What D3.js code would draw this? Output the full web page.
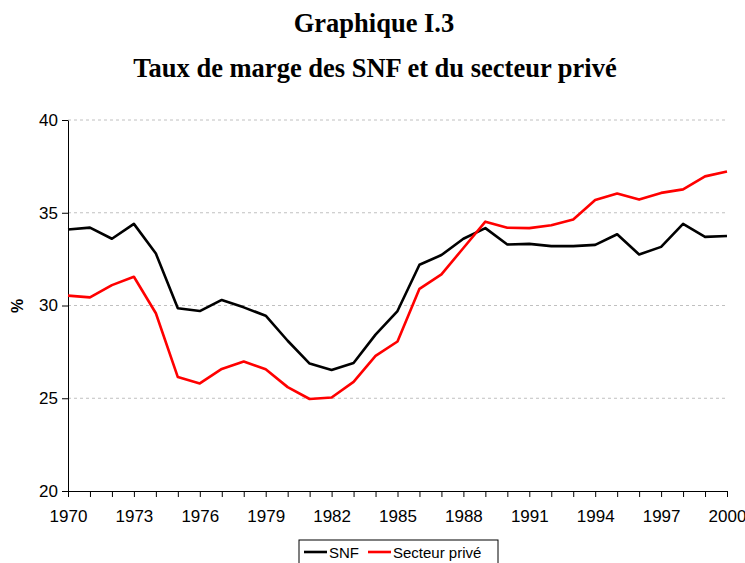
<!DOCTYPE html>
<html>
<head>
<meta charset="utf-8">
<script src="https://cdn.jsdelivr.net/npm/d3@7"></script>
<style>
  body { margin: 0; background: #fff; }
  svg { display: block; }
</style>
</head>
<body>
<svg id="chart" width="745" height="563"></svg>
<script>
// years 1970..2000
const years = d3.range(1970, 2001);
// taux de marge des SNF
const snf = [34.1, 34.2, 33.6, 34.4, 32.8, 29.85, 29.7, 30.3, 29.9, 29.45, 28.1,
  26.87, 26.52, 26.9, 28.43, 29.7, 32.2, 32.72, 33.6, 34.17, 33.29,
  33.32, 33.2, 33.2, 33.27, 33.84, 32.75, 33.16, 34.4, 33.7, 33.75];
// taux de marge du secteur privé
const prive = [30.53, 30.44, 31.1, 31.55, 29.58, 26.14, 25.8, 26.58, 26.98, 26.56, 25.6,
  24.96, 25.04, 25.88, 27.28, 28.06, 30.9, 31.68, 33.1, 34.52, 34.19,
  34.17, 34.33, 34.64, 35.69, 36.04, 35.71, 36.07, 36.26, 36.96, 37.22];
const yTicks = [20, 25, 30, 35, 40];
const xLabels = [1970, 1973, 1976, 1979, 1982, 1985, 1988, 1991, 1994, 1997, 2000];

const series = [
  {name: "SNF", values: snf, color: "#000"},
  {name: "Secteur privé", values: prive, color: "#ff0000"}
];

const svg = d3.select("#chart");
const plotLeft = 68, plotRight = 727, plotTop = 120, plotBottom = 491;

const x = d3.scaleLinear().domain([1970, 2000]).range([plotLeft, plotRight]);
const y = d3.scaleLinear().domain([20, 40]).range([plotBottom, plotTop]);

// titles
svg.append("text")
  .attr("x", 374).attr("y", 32)
  .attr("text-anchor", "middle")
  .style("font-family", "'Liberation Serif', 'Times New Roman', serif")
  .style("font-weight", "bold").style("font-size", "26.5px")
  .text("Graphique I.3");
svg.append("text")
  .attr("x", 375).attr("y", 77)
  .attr("text-anchor", "middle")
  .style("font-family", "'Liberation Serif', 'Times New Roman', serif")
  .style("font-weight", "bold").style("font-size", "26.5px")
  .text("Taux de marge des SNF et du secteur privé");

// dashed gridlines
svg.append("g")
  .selectAll("line")
  .data(yTicks.filter(d => d > 20))
  .join("line")
  .attr("x1", plotLeft).attr("x2", plotRight)
  .attr("y1", d => y(d)).attr("y2", d => y(d))
  .attr("stroke", "#c0c0c0")
  .attr("stroke-dasharray", "3,3");

// y axis
const yAxis = svg.append("g")
  .attr("transform", `translate(${plotLeft},0)`)
  .call(d3.axisLeft(y).tickValues(yTicks).tickSize(6).tickSizeOuter(0).tickPadding(4));
yAxis.select(".domain").attr("stroke", "#000");
yAxis.selectAll("text")
  .style("font-family", "'Liberation Sans', Arial, sans-serif")
  .style("font-size", "17px").attr("fill", "#000");

// x axis, a tick every year, a label every 3 years
const xAxis = svg.append("g")
  .attr("transform", `translate(0,${plotBottom})`)
  .call(d3.axisBottom(x).tickValues(years).tickSize(6).tickSizeOuter(0)
    .tickPadding(13)
    .tickFormat(d => xLabels.includes(d) ? d : ""));
xAxis.select(".domain").attr("stroke", "#000");
xAxis.selectAll("text")
  .style("font-family", "'Liberation Sans', Arial, sans-serif")
  .style("font-size", "17px").attr("fill", "#000");

// "%" label
svg.append("text")
  .attr("transform", "translate(23,306) rotate(-90)")
  .attr("text-anchor", "middle")
  .style("font-family", "'Liberation Sans', Arial, sans-serif")
  .style("font-weight", "bold").style("font-size", "16px")
  .text("%");

// lines
const line = d3.line()
  .x((d, i) => x(years[i]))
  .y(d => y(d));

svg.append("g")
  .selectAll("path")
  .data(series)
  .join("path")
  .attr("d", d => line(d.values))
  .attr("fill", "none")
  .attr("stroke", d => d.color)
  .attr("stroke-width", 2.6)
  .attr("stroke-linejoin", "round");

// legend
const legend = svg.append("g").attr("transform", "translate(299,540)");
legend.append("rect")
  .attr("width", 199).attr("height", 30)
  .attr("fill", "#fff").attr("stroke", "#000");
const items = legend.selectAll("g.item")
  .data(series)
  .join("g")
  .attr("class", "item")
  .attr("transform", (d, i) => `translate(${i === 0 ? 5 : 69},0)`);
items.append("line")
  .attr("x1", 0).attr("x2", 23)
  .attr("y1", 12).attr("y2", 12)
  .attr("stroke", d => d.color).attr("stroke-width", 2.6);
items.append("text")
  .attr("x", 25).attr("y", 17.5)
  .style("font-family", "'Liberation Sans', Arial, sans-serif")
  .style("font-size", "15px")
  .text(d => d.name);
</script>
</body>
</html>
